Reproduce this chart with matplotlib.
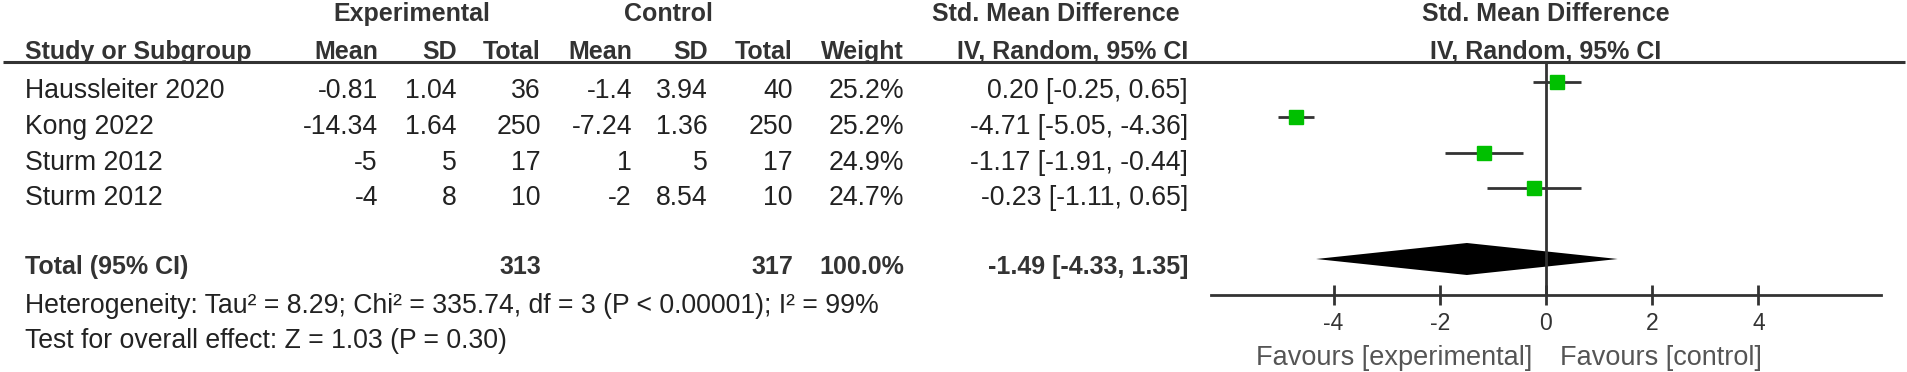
import matplotlib
matplotlib.use("Agg")
import matplotlib.pyplot as plt

# ---------------- data ----------------
studies = ["Haussleiter 2020", "Kong 2022", "Sturm 2012", "Sturm 2012"]
exp_mean = [-0.81, -14.34, -5, -4]
exp_sd = [1.04, 1.64, 5, 8]
exp_n = [36, 250, 17, 10]
ctl_mean = [-1.4, -7.24, 1, -2]
ctl_sd = [3.94, 1.36, 5, 8.54]
ctl_n = [40, 250, 17, 10]
weights = [25.2, 25.2, 24.9, 24.7]
smd = [0.20, -4.71, -1.17, -0.23]
ci_low = [-0.25, -5.05, -1.91, -1.11]
ci_high = [0.65, -4.36, -0.44, 0.65]
total_exp = 313
total_ctl = 317
total_weight = 100.0
pooled_est = -1.49
pooled_low = -4.33
pooled_high = 1.35
heterogeneity = "Heterogeneity: Tau\u00b2 = 8.29; Chi\u00b2 = 335.74, df = 3 (P < 0.00001); I\u00b2 = 99%"
overall_effect = "Test for overall effect: Z = 1.03 (P = 0.30)"
x_ticks = [-4, -2, 0, 2, 4]
favours_left = "Favours [experimental]"
favours_right = "Favours [control]"

# ---------------- style ----------------
plt.rcParams["font.family"] = ["Liberation Sans", "DejaVu Sans"]
plt.rcParams["axes.unicode_minus"] = False

W, H = 1908, 372
fig = plt.figure(figsize=(W / 100, H / 100), dpi=100)

axt = fig.add_axes([0, 0, 1, 1])
axt.set_xlim(0, W)
axt.set_ylim(H, 0)
axt.axis("off")

HDR = dict(fontsize=18, fontweight="bold", color="#333333", va="baseline")
REG = dict(fontsize=19.2, color="#222222", va="baseline")
BLD = dict(fontsize=18, fontweight="bold", color="#333333", va="baseline")


def g(v):
    return "{:g}".format(v)


# header rows
y_h1, y_h2 = 21, 59
axt.text(412, y_h1, "Experimental", ha="center", **HDR)
axt.text(668, y_h1, "Control", ha="center", **HDR)
axt.text(1180, y_h1, "Std. Mean Difference", ha="right", **HDR)
axt.text(25, y_h2, "Study or Subgroup", ha="left", **HDR)
col_right = [378, 457, 541, 632, 708, 793, 904, 1188]
for x, lab in zip(col_right, ["Mean", "SD", "Total", "Mean", "SD", "Total",
                              "Weight", "IV, Random, 95% CI"]):
    axt.text(x, y_h2, lab, ha="right", **HDR)
axt.plot([3, 1905], [62, 62], color="#333333", lw=2.2, solid_capstyle="butt")

# study rows
row_base = [98, 133.5, 169.5, 205]
for i, yb in enumerate(row_base):
    axt.text(25, yb, studies[i], ha="left", **REG)
    vals = [g(exp_mean[i]), g(exp_sd[i]), str(exp_n[i]),
            g(ctl_mean[i]), g(ctl_sd[i]), str(ctl_n[i]),
            "{:.1f}%".format(weights[i]),
            "{:.2f} [{:.2f}, {:.2f}]".format(smd[i], ci_low[i], ci_high[i])]
    for x, s in zip(col_right, vals):
        axt.text(x, yb, s, ha="right", **REG)

# total row
y_tot = 274
axt.text(25, y_tot, "Total (95% CI)", ha="left", **BLD)
axt.text(col_right[2], y_tot, str(total_exp), ha="right", **BLD)
axt.text(col_right[5], y_tot, str(total_ctl), ha="right", **BLD)
axt.text(col_right[6], y_tot, "{:.1f}%".format(total_weight), ha="right", **BLD)
axt.text(col_right[7], y_tot,
         "{:.2f} [{:.2f}, {:.2f}]".format(pooled_est, pooled_low, pooled_high),
         ha="right", **BLD)
axt.text(25, 313, heterogeneity, ha="left", **REG)
axt.text(25, 348, overall_effect, ha="left", **REG)

# ---------------- forest panel ----------------
zero_px, px_per_unit, half = 1546, 53.1, 6.3
left_px = zero_px - half * px_per_unit
axp = fig.add_axes([left_px / W, 0, 2 * half * px_per_unit / W, 1])
axp.set_facecolor("none")
axp.set_xlim(-half, half)
axp.set_ylim(H, 0)
for s in ["top", "left", "right"]:
    axp.spines[s].set_visible(False)
axp.spines["bottom"].set_position(("data", 295))
axp.spines["bottom"].set_color("#333333")
axp.spines["bottom"].set_linewidth(2)
axp.set_yticks([])
axp.set_xticks(x_ticks)
axp.set_xticklabels([str(t) for t in x_ticks])
axp.tick_params(axis="x", direction="inout", length=14, width=2,
                colors="#333333", labelsize=16.5, pad=5)

axp.text(0, 21, "Std. Mean Difference", ha="center", **HDR)
axp.text(0, 59, "IV, Random, 95% CI", ha="center", **HDR)

axp.vlines(0, 62, 295, color="#333333", lw=2)
marker_y = [82, 117, 153, 188]
axp.hlines(marker_y, ci_low, ci_high, color="#333333", lw=2)
axp.plot(smd, marker_y, "s", ms=10, color="#00c000", mec="#00c000",
         linestyle="none", zorder=3)
axp.fill([pooled_low, pooled_est, pooled_high, pooled_est],
         [259, 243, 259, 275], color="black", lw=0)

axt.text(1532, 365, favours_left, ha="right", fontsize=19.5, color="#555555",
         va="baseline")
axt.text(1560, 365, favours_right, ha="left", fontsize=19.5, color="#555555",
         va="baseline")

fig.savefig("out.png", dpi=100)
